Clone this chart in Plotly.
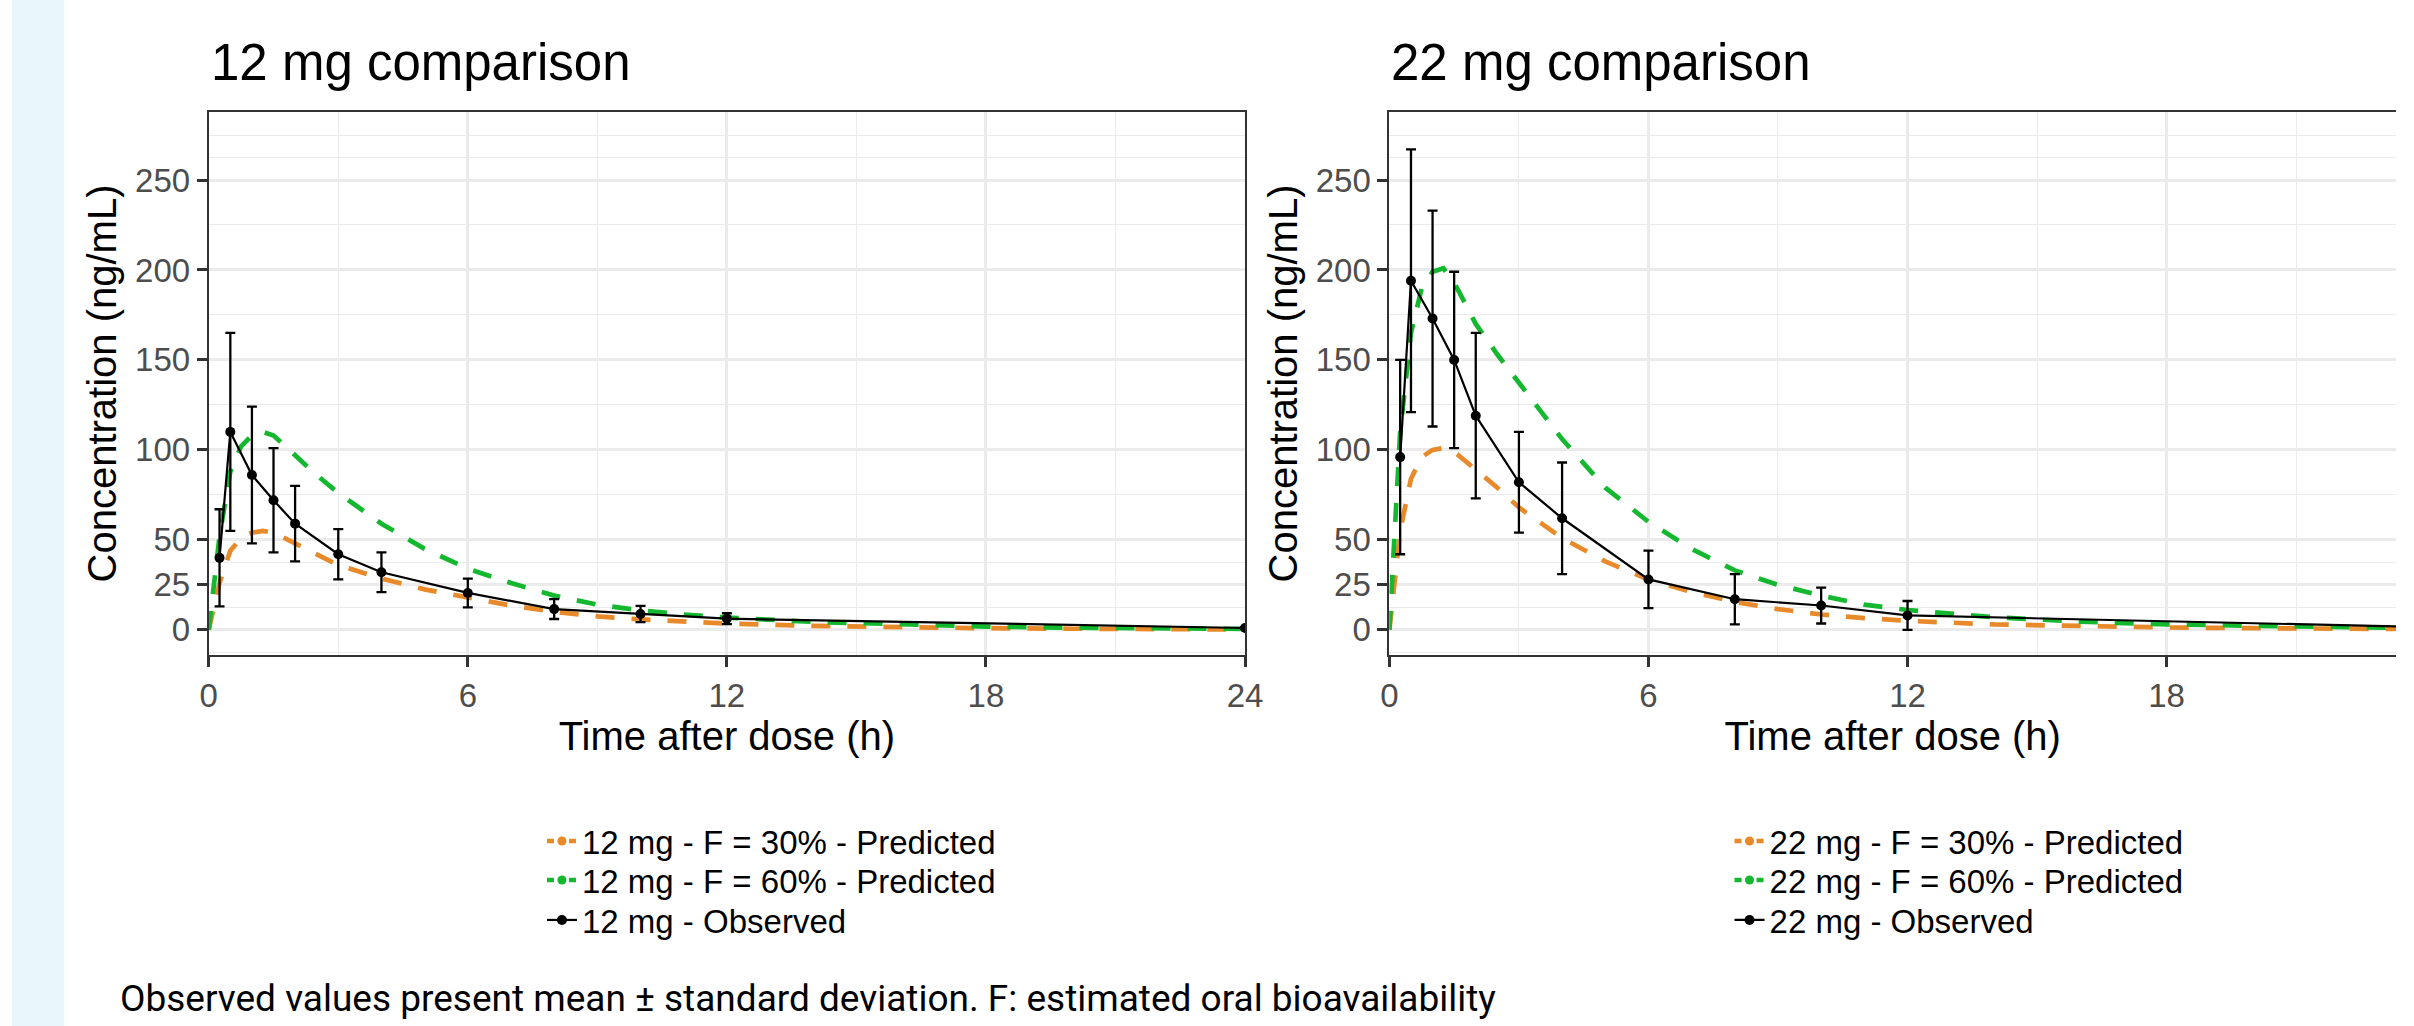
import plotly.graph_objects as go

# ---------------- data ----------------
obs_time = [0.25, 0.5, 1, 1.5, 2, 3, 4, 6, 8, 10, 12, 24]
obs_12 = [40, 110, 86, 72, 59, 42, 32, 20.5, 11.5, 8.8, 6.2, 1.0]
sd_12 = [27, 55, 38, 29, 21, 14, 11, 8, 5.5, 4.5, 3, 0.5]
obs_22 = [96, 194, 173, 150, 119, 82, 62, 28, 17, 13.5, 8, 1.5]
sd_22 = [54, 73, 60, 49, 46, 28, 31, 16, 14, 10, 8, 1]

pred_time = [0, 0.25, 0.5, 0.75, 1, 1.25, 1.5, 2, 2.5, 3, 4, 5, 6, 7, 8, 9, 10,
             11, 12, 14, 16, 18, 20, 22, 24]
f30_12 = [0, 26, 44, 51, 54, 55, 54, 48, 42, 36, 28.5, 22.5, 18, 13.5, 10, 7.5,
          5.8, 4.5, 3.5, 2.2, 1.4, 0.9, 0.6, 0.4, 0.2]
f60_12 = [0, 52, 88, 102, 108, 110, 108, 97, 86, 76, 59, 45, 34, 26, 19, 14,
          10.8, 8.5, 6.8, 4.4, 2.8, 1.8, 1.2, 0.8, 0.5]
f30_22 = [0, 55, 84, 96, 100, 101, 99, 89, 79, 68, 51, 38, 28, 21, 15.5, 11.5,
          8.5, 6.5, 5, 3, 2, 1.3, 0.9, 0.6, 0.4]
f60_22 = [0, 110, 165, 190, 199, 201, 193, 170, 153, 137, 106, 79, 60, 45, 33,
          25, 19, 14, 11, 7, 4.5, 3, 2, 1.3, 0.8]

panel_titles = ["12 mg comparison", "22 mg comparison"]
doses = ["12 mg", "22 mg"]
x_ticks = [0, 6, 12, 18, 24]
x_minor = [3, 9, 15, 21]
y_ticks = [0, 25, 50, 100, 150, 200, 250]
y_minor = [-12.5, 12.5, 37.5, 75, 125, 175, 225, 262.5, 275]
caption = "Observed values present mean \u00b1 standard deviation. F: estimated oral bioavailability"

# ---------------- style ----------------
W, H = 2414, 1026
ORANGE = "#E8892A"
GREEN = "#14B82E"
FONT = "Liberation Sans, Arial, sans-serif"
DASH = "19px,17px"

P1_L, P1_R = 202, 1250
P2_L = 1396
TOP, BOT = 112, 655
px_per_h = (P1_R - P1_L) / 24
x2_end = (W - P2_L) / px_per_h

legend_rows = [841, 880, 920]
legend_x = [539, 1740]

fig = go.Figure()

panels = [
    dict(xa="x", ya="y", obs=obs_12, sd=sd_12, f30=f30_12, f60=f60_12),
    dict(xa="x2", ya="y2", obs=obs_22, sd=sd_22, f30=f30_22, f60=f60_22),
]

def lg(i, j):
    n = i * 3 + j + 1
    return "legend" if n == 1 else f"legend{n}"

for i, p in enumerate(panels):
    dose = doses[i]
    for j, (name, col) in enumerate([(f"{dose} - F = 30% - Predicted", ORANGE),
                                     (f"{dose} - F = 60% - Predicted", GREEN)]):
        fig.add_trace(go.Scatter(
            x=[None], y=[None], mode="lines+markers", name=name,
            line=dict(color=col, width=4.5, dash="7px,4px"),
            marker=dict(color=col, size=9),
            xaxis=p["xa"], yaxis=p["ya"], legend=lg(i, j), showlegend=True))
    fig.add_trace(go.Scatter(
        x=pred_time, y=p["f30"], mode="lines", showlegend=False,
        line=dict(color=ORANGE, width=4.7, dash=DASH),
        xaxis=p["xa"], yaxis=p["ya"]))
    fig.add_trace(go.Scatter(
        x=pred_time, y=p["f60"], mode="lines", showlegend=False,
        line=dict(color=GREEN, width=4.7, dash=DASH),
        xaxis=p["xa"], yaxis=p["ya"]))
    fig.add_trace(go.Scatter(
        x=obs_time, y=p["obs"], mode="lines+markers", name=f"{dose} - Observed",
        line=dict(color="black", width=2.2),
        marker=dict(color="black", size=10),
        error_y=dict(type="data", array=p["sd"], visible=True, color="black",
                     thickness=2.3, width=5),
        xaxis=p["xa"], yaxis=p["ya"], legend=lg(i, 2), showlegend=True))

grid_major = "#EBEBEB"
axis_common = dict(
    showline=True, linecolor="#333333", linewidth=2,
    ticks="outside", ticklen=10, tickwidth=2.5, tickcolor="#333333",
    tickfont=dict(family=FONT, size=33, color="#4D4D4D"),
    showgrid=True, gridcolor=grid_major, gridwidth=2.6, zeroline=False,
)

y_dom = [1 - BOT / H, 1 - TOP / H]
x1_dom = [P1_L / W, P1_R / W]
x2_dom = [P2_L / W, 1.0]

for k, (xa, ya, dom, xr, mirror_y) in enumerate([
        ("xaxis", "yaxis", x1_dom, [0, 24], True),
        ("xaxis2", "yaxis2", x2_dom, [0, x2_end], False)]):
    fig.layout[xa] = dict(
        axis_common, domain=dom, range=xr, tickmode="array", tickvals=x_ticks,
        mirror=True, anchor="y" if k == 0 else "y2",
        minor=dict(tickmode="array", tickvals=x_minor, showgrid=True,
                   gridcolor=grid_major, gridwidth=1.3, ticks=""),
        title=dict(text="Time after dose (h)", font=dict(family=FONT, size=40, color="black"),
                   standoff=6))
    fig.layout[ya] = dict(
        axis_common, domain=y_dom, range=[-14, 287.8], tickmode="array",
        tickvals=y_ticks, mirror=mirror_y, anchor="x" if k == 0 else "x2",
        minor=dict(tickmode="array", tickvals=y_minor, showgrid=True,
                   gridcolor=grid_major, gridwidth=1.3, ticks=""),
        title=dict(text="Concentration (ng/mL)", font=dict(family=FONT, size=40, color="black"),
                   standoff=6))

annotations = []
for k, dom in enumerate([x1_dom, x2_dom]):
    annotations.append(dict(
        text=panel_titles[k], x=dom[0], y=1 - 63 / H, xref="paper", yref="paper",
        xanchor="left", yanchor="middle", showarrow=False,
        font=dict(family=FONT, size=51, color="black")))
annotations.append(dict(
    text=caption, x=110 / W, y=1 - 998 / H, xref="paper", yref="paper",
    xanchor="left", yanchor="middle", showarrow=False,
    font=dict(family="Roboto, sans-serif", size=37, color="black")))

legend_style = dict(font=dict(family=FONT, size=33, color="black"),
                    bgcolor="rgba(0,0,0,0)", xanchor="left", yanchor="middle",
                    traceorder="normal", itemclick=False, itemdoubleclick=False)

legends = {}
for i in range(2):
    for j in range(3):
        key = lg(i, j)
        legends[key] = dict(legend_style, x=legend_x[i] / W, y=1 - legend_rows[j] / H)

fig.update_layout(
    width=W, height=H,
    margin=dict(l=0, r=0, t=0, b=0),
    paper_bgcolor="white", plot_bgcolor="white",
    showlegend=True,
    annotations=annotations,
    shapes=[dict(type="rect", xref="paper", yref="paper", x0=3 / W, x1=56 / W,
                 y0=0, y1=1, fillcolor="#E9F6FC", line=dict(width=0), layer="below")],
    **legends,
)

fig.write_html("out.html", config={"displayModeBar": False},
               post_script="document.body.style.margin='0';document.body.style.overflow='hidden';")
